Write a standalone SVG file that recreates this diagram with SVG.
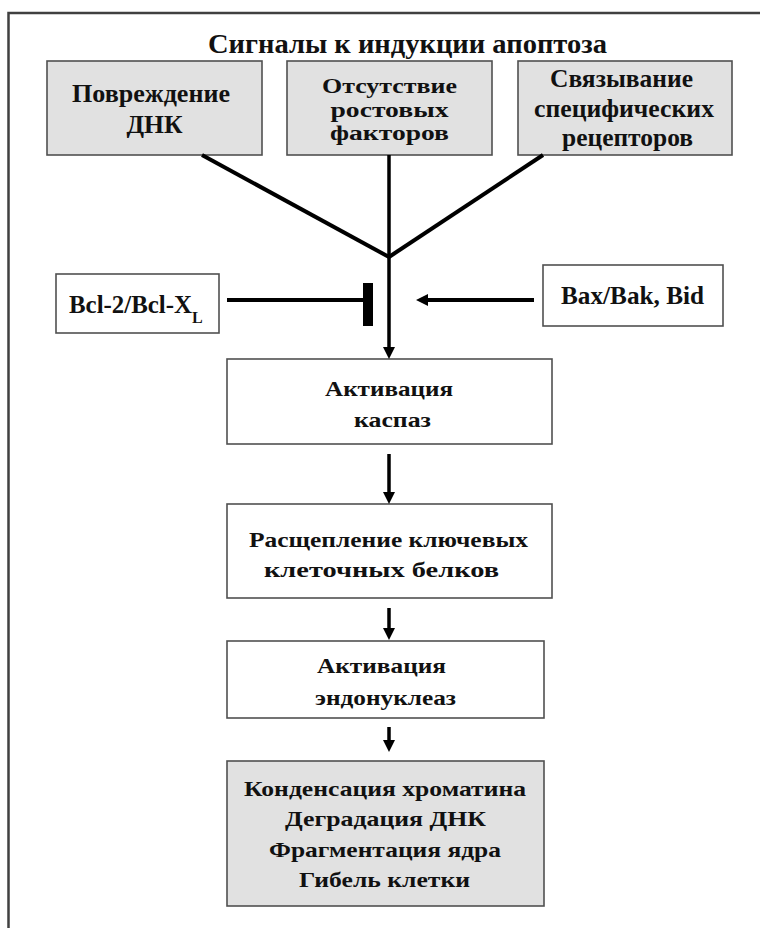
<svg xmlns="http://www.w3.org/2000/svg" width="760" height="928" viewBox="0 0 760 928">
<style>
  .box { stroke: #505050; stroke-width: 1.6; }
  .gray { fill: #e1e1e1; }
  .white { fill: #ffffff; }
  .t { font-family: "Liberation Serif", "Times New Roman", serif; font-weight: bold; fill: #111; }
  .top { font-size: 25px; }
  .tight { font-size: 20px; }
  .low { font-size: 21px; }
  .mid { font-size: 25px; }
  .conn { stroke: #000; fill: none; }
</style>
<defs>
  <marker id="arrow" markerUnits="userSpaceOnUse" markerWidth="12" markerHeight="12" viewBox="0 0 12 12" refX="4" refY="6" orient="auto">
    <path d="M0,0 L12,6 L0,12 z" fill="#000"/>
  </marker>
</defs>
<rect width="760" height="928" fill="#ffffff"/>
<path d="M8.5,928 V13 H760" fill="none" stroke="#404040" stroke-width="2.5"/>

<g id="title">
  <text class="t" x="407.5" y="53" font-size="28" text-anchor="middle" textLength="399" lengthAdjust="spacingAndGlyphs">Сигналы к индукции апоптоза</text>
</g>

<g id="node-dna">
  <rect class="box gray" x="47" y="61" width="215" height="94"/>
  <text class="t top" x="151" y="102" text-anchor="middle" textLength="158" lengthAdjust="spacingAndGlyphs">Повреждение</text>
  <text class="t top" x="154.5" y="133" text-anchor="middle" textLength="56" lengthAdjust="spacingAndGlyphs">ДНК</text>
</g>

<g id="node-growth">
  <rect class="box gray" x="287" y="61" width="205" height="94"/>
  <text class="t tight" x="389.5" y="93" text-anchor="middle" textLength="135" lengthAdjust="spacingAndGlyphs">Отсутствие</text>
  <text class="t tight" x="389.5" y="116.5" text-anchor="middle" textLength="118" lengthAdjust="spacingAndGlyphs">ростовых</text>
  <text class="t tight" x="389.5" y="140" text-anchor="middle" textLength="119" lengthAdjust="spacingAndGlyphs">факторов</text>
</g>

<g id="node-receptors">
  <rect class="box gray" x="518" y="61" width="214" height="94"/>
  <text class="t top" x="621.5" y="87" text-anchor="middle" textLength="143" lengthAdjust="spacingAndGlyphs">Связывание</text>
  <text class="t top" x="624" y="117" text-anchor="middle" textLength="180" lengthAdjust="spacingAndGlyphs">специфических</text>
  <text class="t top" x="627.5" y="146" text-anchor="middle" textLength="131" lengthAdjust="spacingAndGlyphs">рецепторов</text>
</g>

<g id="node-bcl">
  <rect class="box white" x="56" y="274" width="163" height="59"/>
  <text class="t mid" x="69" y="313" textLength="123" lengthAdjust="spacingAndGlyphs">Bcl-2/Bcl-X</text>
  <text class="t" x="192" y="323" font-size="16">L</text>
</g>

<g id="node-bax">
  <rect class="box white" x="543" y="265" width="180" height="61"/>
  <text class="t mid" x="632.5" y="304" text-anchor="middle" textLength="143" lengthAdjust="spacingAndGlyphs">Bax/Bak, Bid</text>
</g>

<g id="node-caspase">
  <rect class="box white" x="227" y="359" width="325" height="85"/>
  <text class="t low" x="389" y="396" text-anchor="middle" textLength="128" lengthAdjust="spacingAndGlyphs">Активация</text>
  <text class="t low" x="392.5" y="427" text-anchor="middle" textLength="77" lengthAdjust="spacingAndGlyphs">каспаз</text>
</g>

<g id="node-cleavage">
  <rect class="box white" x="227" y="504" width="325" height="94"/>
  <text class="t low" x="388.5" y="547" text-anchor="middle" textLength="279" lengthAdjust="spacingAndGlyphs">Расщепление ключевых</text>
  <text class="t low" x="381.5" y="577" text-anchor="middle" textLength="235" lengthAdjust="spacingAndGlyphs">клеточных белков</text>
</g>

<g id="node-endonuclease">
  <rect class="box white" x="227" y="641" width="317" height="77"/>
  <text class="t low" x="381.5" y="673" text-anchor="middle" textLength="129" lengthAdjust="spacingAndGlyphs">Активация</text>
  <text class="t low" x="385.5" y="705" text-anchor="middle" textLength="141" lengthAdjust="spacingAndGlyphs">эндонуклеаз</text>
</g>

<g id="node-death">
  <rect class="box gray" x="227" y="761" width="317" height="145"/>
  <text class="t low" x="385" y="796" text-anchor="middle" textLength="282" lengthAdjust="spacingAndGlyphs">Конденсация хроматина</text>
  <text class="t low" x="385.5" y="826" text-anchor="middle" textLength="201" lengthAdjust="spacingAndGlyphs">Деградация ДНК</text>
  <text class="t low" x="385" y="857" text-anchor="middle" textLength="232" lengthAdjust="spacingAndGlyphs">Фрагментация ядра</text>
  <text class="t low" x="384.5" y="887" text-anchor="middle" textLength="171" lengthAdjust="spacingAndGlyphs">Гибель клетки</text>
</g>

<g id="connectors">
  <line class="conn" x1="202" y1="155" x2="389" y2="257" stroke-width="4"/>
  <line class="conn" x1="389" y1="155" x2="389" y2="257" stroke-width="3.5"/>
  <line class="conn" x1="543" y1="155" x2="389" y2="257" stroke-width="4"/>
  <line class="conn" x1="389" y1="255" x2="389" y2="351" stroke-width="3.5" marker-end="url(#arrow)"/>
  <line class="conn" x1="227" y1="300" x2="365" y2="300" stroke-width="4"/>
  <rect x="363" y="283" width="10" height="43" fill="#000"/>
  <line class="conn" x1="534" y1="300" x2="424" y2="300" stroke-width="4" marker-end="url(#arrow)"/>
  <line class="conn" x1="389" y1="454" x2="389" y2="496" stroke-width="3.5" marker-end="url(#arrow)"/>
  <line class="conn" x1="389" y1="608" x2="389" y2="632" stroke-width="3.5" marker-end="url(#arrow)"/>
  <line class="conn" x1="389" y1="727" x2="389" y2="744" stroke-width="3.5" marker-end="url(#arrow)"/>
</g>
</svg>
